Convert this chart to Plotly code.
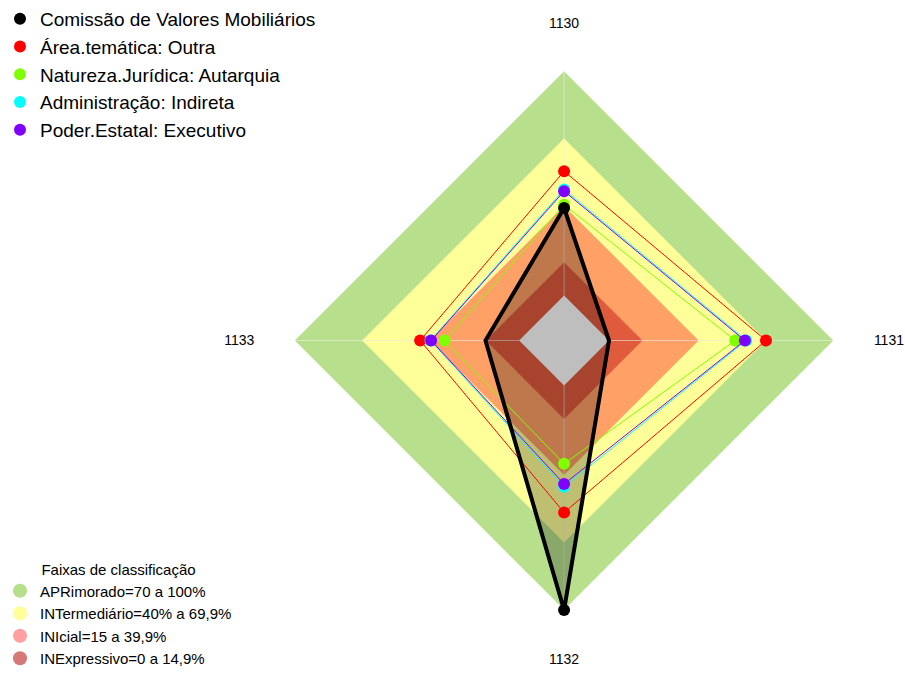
import plotly.graph_objects as go

# eixos (temas)
temas = ['1130', '1131', '1132', '1133']

# séries
cvm = [39, 0, 100, 15]
area_tematica = [55.4, 69.9, 56.6, 44.1]
natureza_juridica = [40.4, 56.2, 34.9, 33.2]
administracao = [47.2, 61.1, 45.1, 39.5]
poder_estatal = [46.5, 60.5, 43.9, 39.2]

series = [
    ('Área.temática: Outra', area_tematica, '#FF0000'),
    ('Natureza.Jurídica: Autarquia', natureza_juridica, '#7FFF00'),
    ('Administração: Indireta', administracao, '#00FFFF'),
    ('Poder.Estatal: Executivo', poder_estatal, '#8000FF'),
]

# faixas de classificação
faixas = ['APRimorado=70 a 100%', 'INTermediário=40% a 69,9%',
          'INIcial=15 a 39,9%', 'INExpressivo=0 a 14,9%']
limites = [100, 69.9, 39.9, 14.9]
cores_faixa = ['#B8E08C', '#FFFF99', '#FFA066', '#E05A3C']
cores_legenda = ['#B5DF8A', '#FFFF99', '#FFA0A0', '#D67878']
centro = 0
r_min = -20


def fechar(v):
    return list(v) + [v[0]]


theta = fechar(temas)
fonte = 'Arial, Liberation Sans, sans-serif'

fig = go.Figure()

# faixas de fundo
for nome, lim, cor in zip(faixas, limites, cores_faixa):
    fig.add_trace(go.Scatterpolar(
        r=fechar([lim] * len(temas)), theta=theta,
        mode='none', fill='toself', fillcolor=cor,
        showlegend=False, hoverinfo='skip'))

# raios
r_raios, t_raios = [], []
for t in temas:
    r_raios += [r_min, 100, None]
    t_raios += [t, t, None]
fig.add_trace(go.Scatterpolar(
    r=r_raios, theta=t_raios, mode='lines',
    line=dict(color='rgba(235,235,235,0.6)', width=1),
    showlegend=False, hoverinfo='skip'))

# preenchimento da CVM
fig.add_trace(go.Scatterpolar(
    r=fechar(cvm), theta=theta, mode='none', fill='toself',
    fillcolor='rgba(0,0,0,0.25)', showlegend=False, hoverinfo='skip'))

# centro cinza
fig.add_trace(go.Scatterpolar(
    r=fechar([centro] * len(temas)), theta=theta,
    mode='none', fill='toself', fillcolor='#BEBEBE',
    showlegend=False, hoverinfo='skip'))

# séries comparativas
for i, (nome, vals, cor) in enumerate(series):
    fig.add_trace(go.Scatterpolar(
        r=fechar(vals), theta=theta, mode='lines',
        line=dict(color=cor, width=1),
        showlegend=False, hoverinfo='skip'))
    fig.add_trace(go.Scatterpolar(
        r=vals, theta=temas, mode='markers', name=nome,
        marker=dict(color=cor, size=12),
        legendrank=2 + i))

fig.add_trace(go.Scatterpolar(
    r=fechar(cvm), theta=theta, mode='lines',
    line=dict(color='black', width=4),
    showlegend=False, hoverinfo='skip'))
fig.add_trace(go.Scatterpolar(
    r=cvm, theta=temas, mode='markers',
    name='Comissão de Valores Mobiliários',
    marker=dict(color='black', size=12),
    legendrank=1))

# legenda das faixas
for nome, cor in zip(faixas, cores_legenda):
    fig.add_trace(go.Scatterpolar(
        r=[None], theta=[None], mode='markers', name=nome,
        marker=dict(color=cor, size=14),
        legend='legend2'))

fig.update_layout(
    width=905, height=675,
    margin=dict(l=0, r=0, t=0, b=0),
    paper_bgcolor='white',
    font=dict(family=fonte, color='black'),
    polar=dict(
        domain=dict(x=[0.3255, 0.9211], y=[0.0963, 0.8948]),
        gridshape='linear',
        bgcolor='white',
        radialaxis=dict(visible=False, range=[r_min, 100]),
        angularaxis=dict(
            type='category', direction='clockwise', rotation=90,
            showgrid=False, showline=False,
            ticks='outside', ticklen=37, tickcolor='rgba(0,0,0,0)',
            tickfont=dict(size=14, color='black')),
    ),
    legend=dict(
        x=0, y=1, xanchor='left', yanchor='top',
        font=dict(size=19), bgcolor='rgba(0,0,0,0)',
        itemclick=False),
    legend2=dict(
        x=0, y=0, xanchor='left', yanchor='bottom',
        font=dict(size=15), bgcolor='rgba(0,0,0,0)',
        title=dict(text='Faixas de classificação', side='top center',
                   font=dict(size=15)),
        itemclick=False),
)

fig.write_html('out.html', config={'displayModeBar': False},
               post_script="document.body.style.margin='0';")
